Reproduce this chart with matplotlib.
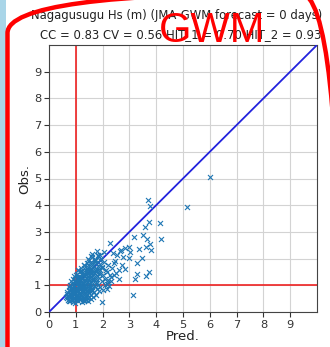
import matplotlib
matplotlib.use("Agg")
import matplotlib.pyplot as plt
from matplotlib.patches import FancyBboxPatch, Rectangle

# Significant wave height: forecast (pred) vs. observed (obs), metres
pred = [
    0.72, 0.80, 0.88, 0.92, 0.97, 1.02, 1.08, 1.15, 1.22, 1.30, 1.38, 1.47, 1.55,
    0.66, 0.70, 0.74, 0.78, 0.83, 0.87, 0.91, 0.95, 0.99, 1.04, 1.09, 1.13, 1.18, 1.24, 1.29, 1.35, 1.42, 1.50, 1.58, 1.66, 1.75,
    0.68, 0.73, 0.77, 0.81, 0.85, 0.89, 0.93, 0.97, 1.01, 1.05, 1.09, 1.14, 1.19, 1.23, 1.28, 1.33, 1.39, 1.45, 1.52, 1.60, 1.68, 1.78, 1.88, 2.02,
    0.75, 0.80, 0.86, 0.90, 0.95, 1.00, 1.04, 1.08, 1.12, 1.17, 1.21, 1.26, 1.31, 1.36, 1.42, 1.48, 1.55, 1.62, 1.70, 1.80, 1.92, 2.10, 2.25,
    0.82, 0.90, 0.98, 1.05, 1.10, 1.15, 1.20, 1.25, 1.30, 1.36, 1.41, 1.47, 1.53, 1.60, 1.68, 1.76, 1.85, 1.96, 2.08, 2.20,
    0.95, 1.05, 1.14, 1.22, 1.28, 1.34, 1.40, 1.46, 1.52, 1.58, 1.65, 1.72, 1.80, 1.90, 2.02, 2.15,
    1.10, 1.20, 1.30, 1.38, 1.45, 1.52, 1.58, 1.65, 1.72, 1.80, 1.88, 1.98, 2.12,
    1.32, 1.42, 1.50, 1.58, 1.66, 1.74, 1.82, 1.92, 2.05,
    1.48, 1.60, 1.72, 1.84, 1.95,
    1.62, 1.78, 1.90, 2.05,
    0.92, 1.02, 1.11, 1.19, 1.27, 1.34, 1.07, 1.16, 1.24, 0.97, 1.31, 1.40,
    0.76, 0.84, 0.94, 1.03, 1.13, 1.21, 1.29, 1.37, 1.44,
    0.79, 0.88, 0.99, 1.06, 1.17, 1.25, 1.33, 1.43, 1.51, 1.61,
    0.83, 0.94, 1.01, 1.11, 1.20, 1.32, 1.39, 1.49, 1.57, 1.69, 1.83,
    0.87, 0.96, 1.07, 1.18, 1.27, 1.37, 1.46, 1.56, 1.67, 1.77,
    1.00, 1.12, 1.23, 1.33, 1.44, 1.54, 1.64, 1.74, 1.87, 1.99,
    1.18, 1.29, 1.41, 1.53, 1.63, 1.70, 1.86,
    1.45, 1.58, 1.70, 1.82, 1.90,
    2.18, 2.28, 2.15, 2.32, 0.69, 0.74, 0.64,
    2.35, 2.45, 2.55, 2.50, 2.65, 2.30, 2.40, 2.75, 2.20, 2.60, 2.85,
    5.99, 3.70, 3.78, 5.16, 3.72, 4.13, 3.60, 3.18, 3.51, 3.66, 4.18, 3.78, 3.63, 3.81,
    2.28, 3.35, 2.97, 2.85, 2.70, 3.03, 3.47, 3.28, 2.97, 2.72, 3.72, 3.63, 3.28, 3.22,
    3.13, 2.60, 2.41, 2.22, 1.97, 2.41, 1.09,
]
obs = [
    0.45, 0.42, 0.38, 0.47, 0.35, 0.44, 0.40, 0.48, 0.37, 0.43, 0.46, 0.41, 0.49,
    0.52, 0.60, 0.55, 0.66, 0.58, 0.63, 0.51, 0.68, 0.57, 0.62, 0.54, 0.69, 0.59, 0.65, 0.53, 0.61, 0.67, 0.56, 0.64, 0.58, 0.62,
    0.74, 0.82, 0.78, 0.88, 0.71, 0.85, 0.79, 0.72, 0.89, 0.76, 0.83, 0.73, 0.87, 0.80, 0.75, 0.84, 0.71, 0.86, 0.78, 0.82, 0.74, 0.88, 0.77, 0.81,
    0.95, 1.02, 0.92, 1.08, 0.98, 0.91, 1.05, 0.96, 1.09, 0.93, 1.01, 1.07, 0.94, 1.03, 0.99, 1.06, 0.92, 1.04, 0.97, 1.08, 0.95, 1.02, 0.99,
    1.15, 1.22, 1.12, 1.27, 1.18, 1.24, 1.11, 1.29, 1.16, 1.21, 1.26, 1.13, 1.28, 1.19, 1.23, 1.14, 1.26, 1.17, 1.22, 1.12,
    1.35, 1.42, 1.31, 1.47, 1.38, 1.33, 1.45, 1.36, 1.49, 1.32, 1.41, 1.46, 1.34, 1.43, 1.37, 1.48,
    1.57, 1.52, 1.63, 1.55, 1.68, 1.59, 1.51, 1.66, 1.56, 1.62, 1.53, 1.64, 1.58,
    1.75, 1.82, 1.72, 1.88, 1.78, 1.85, 1.73, 1.80, 1.86,
    1.95, 2.05, 1.92, 2.08, 1.98,
    2.18, 2.30, 2.15, 2.25,
    0.70, 0.82, 0.67, 0.93, 0.78, 0.88, 1.14, 1.00, 1.08, 0.86, 0.97, 0.90,
    0.50, 0.47, 0.53, 0.49, 0.55, 0.51, 0.46, 0.56, 0.52,
    0.67, 0.73, 0.64, 0.78, 0.70, 0.76, 0.69, 0.79, 0.72, 0.77,
    0.90, 0.98, 1.12, 0.86, 1.04, 0.93, 1.08, 0.99, 0.88, 0.96, 1.00,
    1.05, 1.18, 1.26, 1.32, 1.10, 1.27, 1.22, 1.16, 1.30, 1.25,
    1.37, 1.30, 1.52, 1.44, 1.58, 1.40, 1.50, 1.55, 1.45, 1.70,
    1.66, 1.75, 1.62, 1.84, 1.71, 1.96, 1.60,
    1.98, 2.10, 2.00, 2.12, 1.95,
    1.05, 1.38, 0.88, 1.15, 0.68, 0.43, 0.58,
    1.65, 1.90, 2.15, 1.45, 2.30, 1.30, 2.20, 2.05, 1.75, 1.25, 1.60,
    5.07, 4.19, 3.97, 3.94, 3.38, 3.32, 3.17, 2.80, 2.88, 2.72, 2.73, 2.55, 2.42, 2.32,
    2.57, 2.35, 2.45, 2.39, 2.32, 2.26, 2.01, 1.82, 2.01, 1.76, 1.51, 1.35, 1.42, 1.22,
    0.64, 1.57, 1.39, 1.20, 0.39, 1.82, 1.57,
]

ticks = list(range(10))
title_line1 = "Nagagusugu Hs (m) (JMA-GWM forecast = 0 days)"
title_line2 = "CC = 0.83 CV = 0.56 HIT_1 = 0.70 HIT_2 = 0.93"

W, H = 330, 347
fig = plt.figure(figsize=(W / 100, H / 100), dpi=100)
fig.patch.set_facecolor("white")

ax = fig.add_axes([49 / W, 1 - 312 / H, 268 / W, 267 / H])
ax.set_xlim(0, 10)
ax.set_ylim(0, 10)
ax.set_xticks(ticks)
ax.set_yticks(ticks)
ax.tick_params(labelsize=8.2, length=3.5, width=0.8, colors="#333333", pad=2)
ax.grid(True, color="#d3d3d3", linewidth=0.8)
ax.set_axisbelow(True)
for sp in ax.spines.values():
    sp.set_color("#444444")
    sp.set_linewidth(0.8)

ax.plot([0, 10], [0, 10], color="#2222dd", linewidth=1.3, zorder=3)
ax.axvline(1, color="#ee2222", linewidth=1.2, zorder=2)
ax.axhline(1, color="#ee2222", linewidth=1.2, zorder=2)
ax.scatter(pred, obs, marker="x", s=13, linewidths=0.8, color="#1f77b4", zorder=4)

ax.set_xlabel("Pred.", fontsize=9.5, labelpad=0, color="#222222")
ax.set_ylabel("Obs.", fontsize=9.5, labelpad=2, color="#222222")

fig.text(177 / W, 1 - 19.5 / H, title_line1, ha="center", va="baseline",
         fontsize=8.4, color="#222222")
fig.text(181 / W, 1 - 38.5 / H, title_line2, ha="center", va="baseline",
         fontsize=8.4, color="#222222")

# Big red label over the title
fig.text(212 / W, 1 - 42 / H, "GWM", ha="center", va="baseline",
         fontsize=30, color="#ff0000", family="Liberation Sans")

# Decorative frame: light-blue strip on the left and a rounded red outline
# (FancyBboxPatch in display pixels, origin at the bottom-left corner)
fig.patches.append(Rectangle((0, 0), 6 / W, 1, transform=fig.transFigure,
                             facecolor="#a9d5e8", edgecolor="none", zorder=0))
radius = 40
frame = FancyBboxPatch((7.5 + radius, -50 + radius),
                       340 - 7.5 - 2 * radius, (H + 7) - (-50) - 2 * radius,
                       boxstyle=f"round,pad={radius}", transform=None,
                       facecolor="none", edgecolor="#ff0000", linewidth=3.2,
                       zorder=10)
fig.patches.append(frame)

fig.savefig("out.png", dpi=100)
